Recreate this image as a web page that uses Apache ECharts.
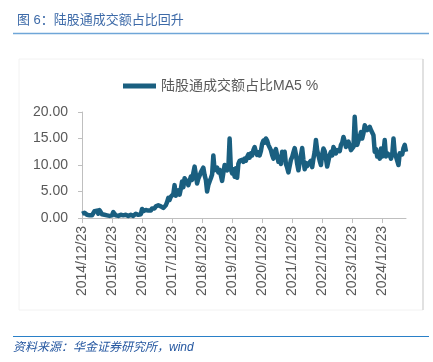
<!DOCTYPE html>
<html>
<head>
<meta charset="utf-8">
<script src="https://cdn.jsdelivr.net/npm/echarts@6/dist/echarts.min.js"></script>
<style>
html,body{margin:0;padding:0;background:#fff;}
#c{width:433px;height:362px;}
</style>
</head>
<body>
<div id="c"></div>
<script>
var seriesName = '陆股通成交额占比MA5 %';
var startYear = 2014, startMonth = 12;
var tickDay = '12/23';
var yTicks = [0, 5, 10, 15, 20];

var v2015 = [0.8, 0.9, 1.0, 0.8, 0.6, 0.5, 0.5, 0.4, 0.5, 0.7, 1.3, 1.0, 1.4, 0.8, 1.5, 1.1, 0.7, 0.5, 0.6, 0.4, 0.5, 0.3, 0.4, 0.3];
var v2016 = [0.5, 1.1, 0.8, 0.5, 0.6, 0.4, 0.5, 0.6, 0.4, 0.5, 0.3, 0.6, 0.5, 0.4, 0.5, 0.6, 0.5, 0.4, 0.6, 0.8, 0.5, 0.6, 0.4, 0.7];
var v2017 = [1.7, 1.3, 1.2, 1.5, 1.3, 1.4, 1.6, 1.4, 1.8, 2.0, 1.8, 2.2, 2.0, 2.4, 2.6, 2.2, 2.0, 1.9, 2.1, 2.4, 3.0, 3.8, 3.4, 4.0];
var v2018 = [3.8, 4.5, 6.2, 4.2, 4.8, 5.2, 4.4, 5.5, 6.9, 5.8, 7.5, 7.8, 6.8, 6.2, 7.0, 7.8, 7.2, 8.5, 9.7, 8.2, 6.5, 7.4, 8.0, 8.6];
var v2019 = [8.6, 9.5, 8.1, 7.2, 5.0, 6.2, 6.9, 7.5, 8.2, 11.8, 9.0, 8.8, 9.5, 8.6, 9.1, 9.3, 7.0, 8.5, 10.0, 9.6, 9.0, 9.5, 15.0, 9.2];
var v2020 = [8.4, 9.2, 7.8, 9.4, 7.6, 10.2, 10.8, 10.5, 11.0, 10.6, 11.2, 10.8, 11.5, 12.0, 11.4, 12.2, 11.8, 12.8, 13.4, 12.5, 11.9, 12.4, 11.8, 12.6];
var v2021 = [14.0, 14.6, 14.2, 15.0, 14.6, 13.8, 13.5, 12.8, 11.9, 11.2, 12.5, 13.0, 11.8, 10.6, 11.5, 10.2, 12.5, 11.8, 12.5, 10.2, 9.5, 8.6, 9.8, 11.0];
var v2022 = [11.5, 12.4, 13.2, 12.0, 10.2, 9.0, 10.5, 11.8, 13.2, 11.0, 9.2, 10.4, 9.8, 10.2, 10.5, 10.8, 9.6, 11.2, 12.5, 14.7, 12.8, 11.8, 10.8, 10.0];
var v2023 = [12.0, 13.1, 12.6, 11.2, 9.7, 10.8, 11.9, 12.5, 11.8, 13.4, 12.8, 12.2, 12.8, 13.1, 12.6, 13.8, 14.2, 15.3, 14.5, 13.4, 13.8, 14.4, 13.6, 12.8];
var v2024 = [13.0, 13.4, 19.1, 15.0, 13.8, 14.6, 15.3, 16.2, 15.0, 16.0, 17.5, 17.0, 16.6, 16.4, 17.2, 16.6, 16.9, 15.6, 12.5, 13.0, 11.6, 12.0, 11.2, 13.1];
var v2025 = [11.6, 12.4, 14.7, 11.6, 12.2, 12.0, 11.8, 11.2, 12.0, 15.0, 12.2, 11.6, 11.8, 10.0, 12.2, 12.5, 12.0, 13.2, 13.8, 12.5];

var values = [].concat(v2015, v2016, v2017, v2018, v2019, v2020, v2021, v2022, v2023, v2024, v2025);

function pad(n){ return (n < 10 ? '0' : '') + n; }
var categories = [];
for (var k = 0; k < values.length; k++) {
  var m = startMonth - 1 + Math.floor(k / 2) + (k % 2);
  var y = startYear + Math.floor(m / 12);
  var mm = m % 12 + 1;
  categories.push(y + '/' + pad(mm) + '/' + (k % 2 === 0 ? '23' : '08'));
}
function isTick(idx, val){ return val.slice(5) === tickDay; }

var chart = echarts.init(document.getElementById('c'), null, {renderer: 'canvas'});
var numFont = '"Liberation Sans", Arial, sans-serif';
var cjkFont = '"Liberation Sans", "Noto Sans CJK SC", sans-serif';
chart.setOption({
  animation: false,
  backgroundColor: '#ffffff',
  title: {
    text: '图 6：陆股通成交额占比回升',
    left: 12, top: 9,
    textStyle: {fontSize: 13, fontWeight: 'normal', color: '#3d6aa8', fontFamily: cjkFont}
  },
  graphic: [
    {type: 'rect', shape: {x: 19, y: 59, width: 404, height: 251}, style: {fill: 'none', stroke: '#f2f2f2', lineWidth: 1}, z: -1},
    {type: 'line', shape: {x1: 423, y1: 59, x2: 423, y2: 310}, style: {stroke: '#c9c9c9', lineWidth: 1}},
    {type: 'line', shape: {x1: 13, y1: 33.5, x2: 429, y2: 33.5}, style: {stroke: '#6fa6d8', lineWidth: 1.5}},
    {type: 'line', shape: {x1: 13, y1: 336.5, x2: 429, y2: 336.5}, style: {stroke: '#2a80c8', lineWidth: 1.2}},
    {type: 'text', left: 13, top: 342, style: {text: '资料来源：华金证券研究所，wind', fill: '#2557a0', font: 'italic 12px "Liberation Sans", "Noto Sans CJK SC", sans-serif'}}
  ],
  legend: {
    left: 118, top: 74,
    icon: 'rect', itemWidth: 33, itemHeight: 5, itemGap: 10,
    textStyle: {fontSize: 14, color: '#595959', fontFamily: cjkFont},
    data: [seriesName]
  },
  grid: {left: 82, right: 27, top: 112, bottom: 144, containLabel: false},
  xAxis: {
    type: 'category',
    data: categories,
    boundaryGap: false,
    axisLine: {lineStyle: {color: '#bfbfbf', width: 1}},
    axisTick: {show: true, interval: isTick, length: 5, lineStyle: {color: '#bfbfbf'}},
    axisLabel: {interval: isTick, rotate: 90, margin: 8, fontSize: 14, color: '#595959', fontFamily: numFont},
    splitLine: {show: false}
  },
  yAxis: {
    type: 'value',
    min: yTicks[0], max: yTicks[yTicks.length - 1], interval: 5,
    axisLine: {show: true, lineStyle: {color: '#bfbfbf', width: 1}},
    axisTick: {show: true, length: 4, lineStyle: {color: '#bfbfbf'}},
    axisLabel: {margin: 14, fontSize: 14, color: '#595959', fontFamily: numFont, formatter: function(v){ return v.toFixed(2); }},
    splitLine: {show: false}
  },
  series: [{
    name: seriesName,
    type: 'line',
    data: values,
    symbol: 'none',
    lineStyle: {color: '#1a5f80', width: 4.5, join: 'round'},
    itemStyle: {color: '#1a5f80'}
  }]
});
</script>
</body>
</html>
